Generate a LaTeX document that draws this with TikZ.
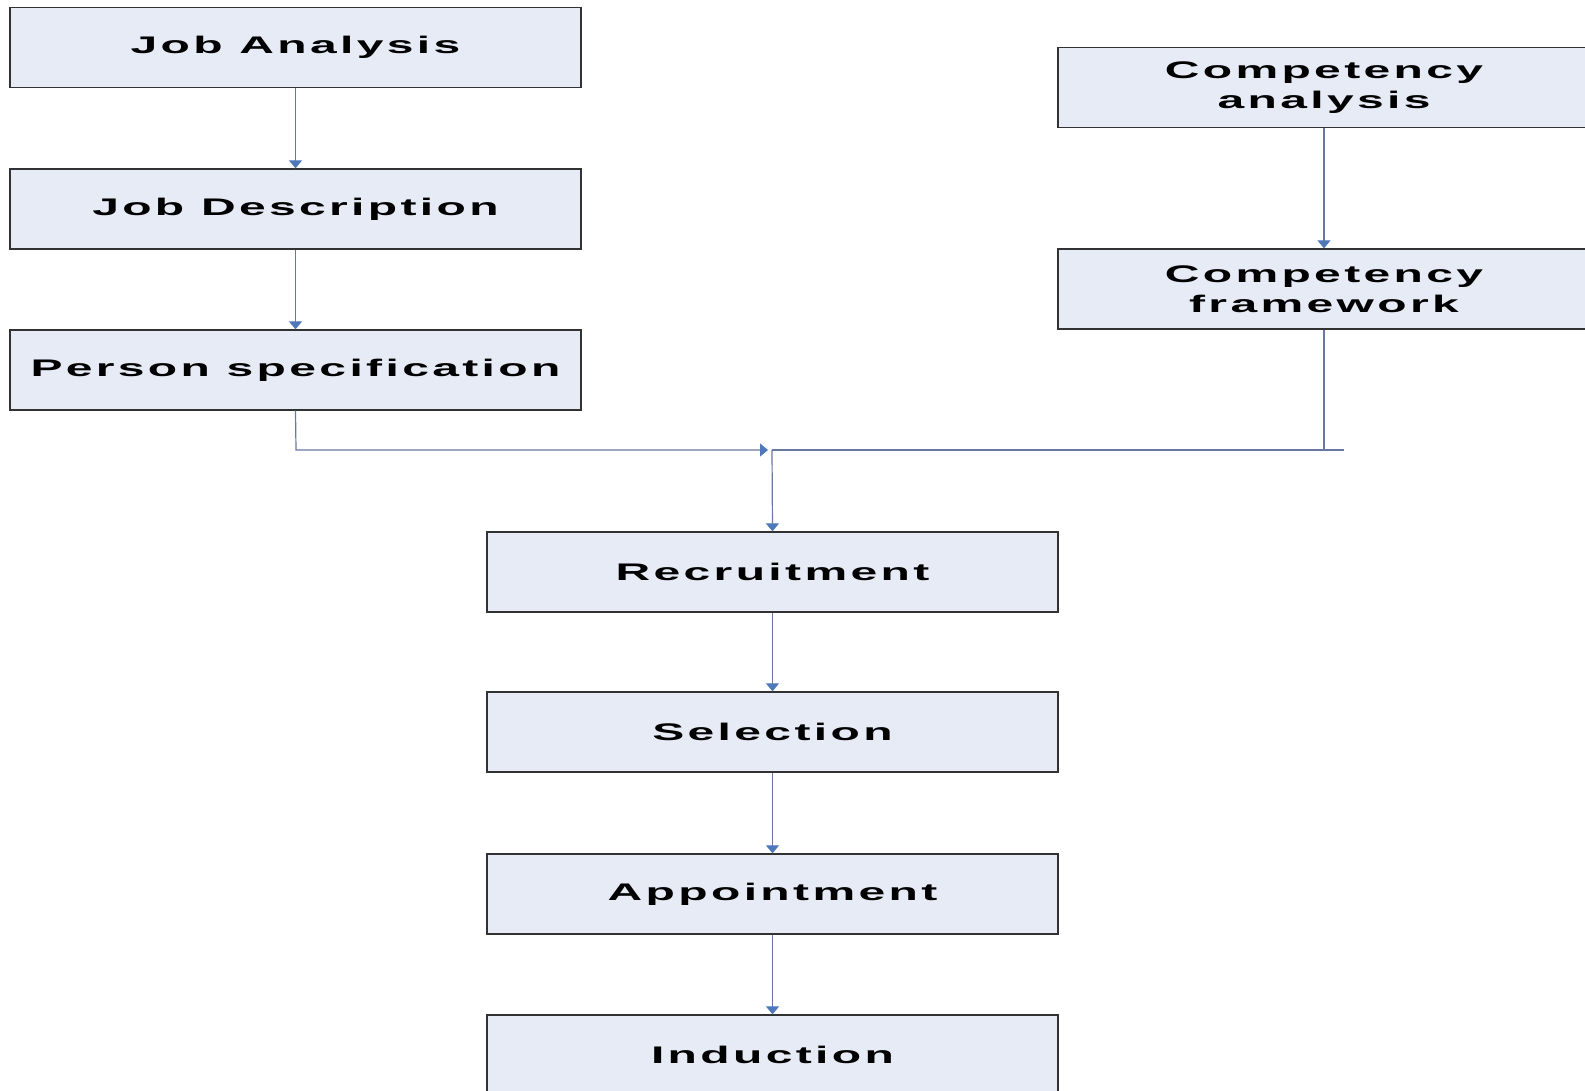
\documentclass[tikz,border=0pt]{standalone}
\usepackage{fontspec}
\setmainfont{Liberation Sans}
\newfontfamily\boxfont[FakeStretch=2.0,LetterSpace=14]{Liberation Sans Bold}
\usetikzlibrary{arrows.meta}
\definecolor{boxfill}{RGB}{230,235,246}
\definecolor{boxline}{RGB}{50,50,50}
\definecolor{conline}{RGB}{105,120,160}
\definecolor{arrowblue}{RGB}{79,120,185}
\begin{document}
\begin{tikzpicture}[x=1pt,y=-1pt,
  stepbox/.style={draw=boxline,line width=1.3pt,fill=boxfill,minimum width=571pt,minimum height=80pt,inner sep=0pt,align=center,font=\boxfont\fontsize{24}{30}\selectfont},
  con/.style={draw=conline,line width=1.2pt},
  arr/.style={con,-{Triangle[width=13pt,length=8pt,fill=arrowblue,color=arrowblue]}}]
\useasboundingbox (0,0) rectangle (1585,1090);
\node[stepbox] (ja) at (295.5,47.5) {Job Analysis};
\node[stepbox] (jd) at (295.5,209) {Job Description};
\node[stepbox] (ps) at (295.5,370) {Person specification};
\node[stepbox,minimum width=532pt] (ca) at (1324,87.5) {Competency\\analysis};
\node[stepbox,minimum width=532pt] (cf) at (1324,289) {Competency\\framework};
\node[stepbox] (rec) at (772.5,572) {Recruitment};
\node[stepbox] (sel) at (772.5,732) {Selection};
\node[stepbox] (app) at (772.5,894) {Appointment};
\node[stepbox] (ind) at (772.5,1055) {Induction};
\coordinate (jl) at (296,450);
\coordinate (jm) at (772,450);
\coordinate (jt) at (768,450);
\coordinate (jr) at (1344,450);
\draw[arr] (ja) -- (jd);
\draw[arr] (jd) -- (ps);
\draw[arr] (ca) -- (cf);
\draw[arr] (ps.south) -- (jl) -- (jt);
\draw[con] (jm) -- (jr);
\draw[con] (cf.south) -- (cf.south |- jr);
\draw[arr] (jm) -- (rec.north);
\draw[arr] (rec) -- (sel);
\draw[arr] (sel) -- (app);
\draw[arr] (app) -- (ind);
\end{tikzpicture}
\end{document}
